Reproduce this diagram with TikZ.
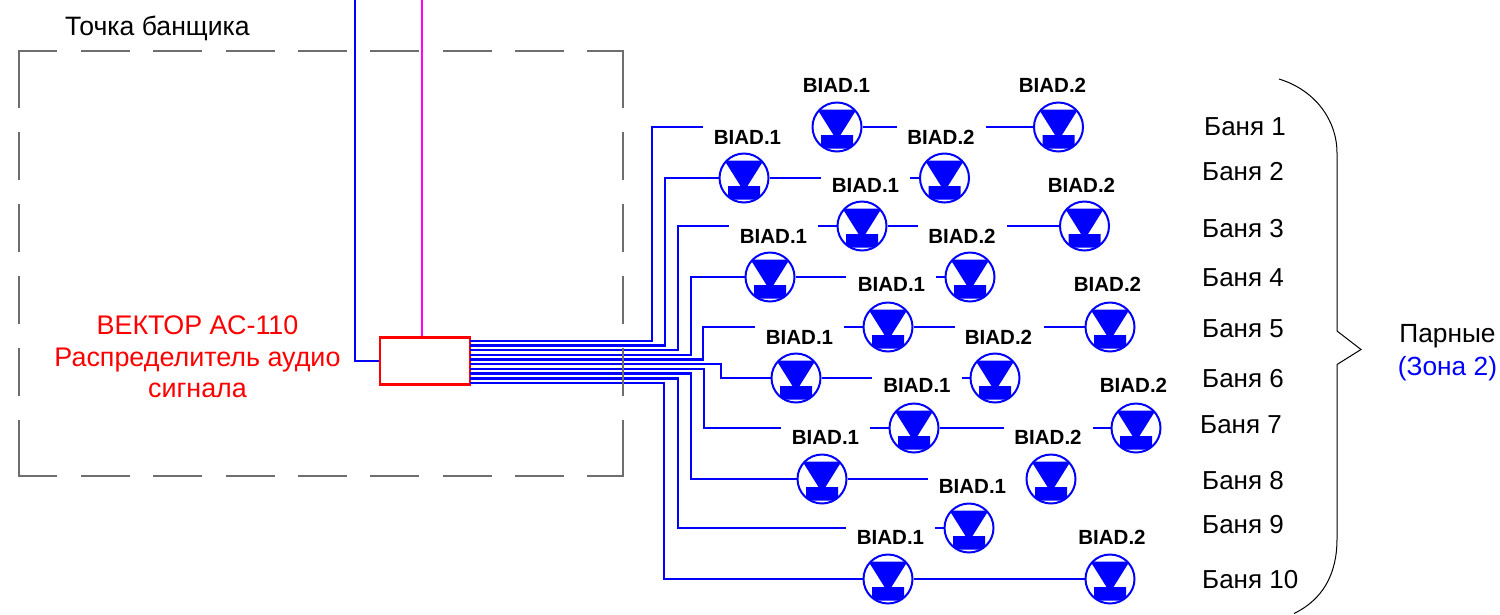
\documentclass[tikz,border=0pt]{standalone}
\usepackage{fontspec}
\setmainfont{Liberation Sans}
\definecolor{dashgray}{RGB}{110,110,110}
\definecolor{pureblue}{RGB}{0,0,255}
\definecolor{purered}{RGB}{255,0,0}
\definecolor{puremag}{RGB}{255,0,255}
\tikzset{
  x=1pt,y=-1pt,
  spk/.style={circle,draw=pureblue,line width=2pt,minimum size=49pt,inner sep=0pt,
    path picture={
      \fill[pureblue,shift={(path picture bounding box.center)}]
        (-19.5,-17.5)--(19.5,-17.5)--(3.5,8)--(-3.5,8)--cycle
        (-16,8) rectangle (16,21.7);
    }},
  wire/.style={draw=pureblue,line width=2.2pt,line join=miter},
  lab/.style={font=\fontsize{20.5pt}{24pt}\bfseries\selectfont,anchor=base,inner sep=0pt},
  bath/.style={font=\fontsize{26pt}{28pt}\selectfont,anchor=base west,inner sep=0pt},
  txt/.style={font=\fontsize{26.3pt}{28pt}\selectfont,anchor=base,inner sep=0pt},
  redtxt/.style={font=\fontsize{26.9pt}{28pt}\selectfont,anchor=base,inner sep=0pt,text=purered},
  zone/.style={draw=dashgray,line width=1.1pt},
  brace/.style={draw=black,line width=1pt},
}
\begin{document}
\begin{tikzpicture}
\useasboundingbox (0,0) rectangle (1500,614);
% box
\node[draw=purered,line width=2.2pt,minimum width=90pt,minimum height=47pt,inner sep=0pt] (box) at (425,361) {};
% speakers
\foreach \n/\x/\y in {
 s1a/837/127,s1b/1058.5/127,s2a/744/178,s2b/944.5/178,s3a/862/226,s3b/1084.5/226,
 s4a/770/277,s4b/970/277,s5a/888/327,s5b/1110/327,s6a/796/378,s6b/995/378,
 s7a/914/428,s7b/1136/428,s8a/822/479,s8b/1051/479,s9a/969/528,s10a/888/579,s10b/1110/579}
 {\node[spk] (\n) at (\x,\y) {};}
% labels
\foreach \n/\x/\y/\t in {
 l1/836.5/92/BIAD.1,l2/1052.5/92/BIAD.2,l3/747.5/144/BIAD.1,l4/941/144/BIAD.2,
 l5/865.5/192/BIAD.1,l6/1081.5/192/BIAD.2,l7/773.5/243/BIAD.1,l8/962/243/BIAD.2,
 l9/891.5/291/BIAD.1,l10/1107.5/291/BIAD.2,l11/799.5/344/BIAD.1,l12/998.5/344/BIAD.2,
 l13/917/392/BIAD.1,l14/1133.5/392/BIAD.2,l15/825.5/444/BIAD.1,l16/1048/444/BIAD.2,
 l17/972.5/493/BIAD.1,l18/890.5/544/BIAD.1,l19/1112/544/BIAD.2}
 {\node[lab] (\n) at (\x,\y) {\t};}
% outlets of the box
\foreach \i/\y in {1/341,2/345.5,3/350,4/355,5/359.5,6/364,7/369,8/373.5,9/378.5,10/383}
 {\coordinate (o\i) at (470,\y);}
% bends and free ends
\coordinate (b1) at (652,127); \coordinate (b2) at (665,178); \coordinate (b3) at (678,226);
\coordinate (b4) at (691,277); \coordinate (b5) at (703,327); \coordinate (b7) at (704,428);
\coordinate (b8) at (691,479); \coordinate (b9) at (678,528); \coordinate (b10) at (664,579);
\coordinate (b6) at (721,378);
\coordinate (e1a) at (703,127); \coordinate (e1b) at (897,127); \coordinate (e1c) at (986,127);
\coordinate (e2a) at (821,178); \coordinate (e2b) at (910,178);
\coordinate (e3a) at (729,226); \coordinate (e3b) at (818,226); \coordinate (e3c) at (918,226); \coordinate (e3d) at (1007,226);
\coordinate (e4a) at (846,277); \coordinate (e4b) at (936,277);
\coordinate (e5a) at (755,327); \coordinate (e5b) at (844,327); \coordinate (e5c) at (955,327); \coordinate (e5d) at (1044,327);
\coordinate (e6a) at (872,378); \coordinate (e6b) at (962,378);
\coordinate (e7a) at (781,428); \coordinate (e7b) at (870,428); \coordinate (e7c) at (1004,428); \coordinate (e7d) at (1093,428);
\coordinate (e8a) at (928,479);
\coordinate (e9a) at (846,528); \coordinate (e9b) at (935,528);
% wires
\draw[wire] (o1) -| (b1) -- (e1a);
\draw[wire] (s1a.east) -- (e1b); \draw[wire] (e1c) -- (s1b.west);
\draw[wire] (o2) -| (b2) -- (s2a.west); \draw[wire] (s2a.east) -- (e2a); \draw[wire] (e2b) -- (s2b.west);
\draw[wire] (o3) -| (b3) -- (e3a);
\draw[wire] (e3b) -- (s3a.west); \draw[wire] (s3a.east) -- (e3c); \draw[wire] (e3d) -- (s3b.west);
\draw[wire] (o4) -| (b4) -- (s4a.west); \draw[wire] (s4a.east) -- (e4a); \draw[wire] (e4b) -- (s4b.west);
\draw[wire] (o5) -| (b5) -- (e5a);
\draw[wire] (e5b) -- (s5a.west); \draw[wire] (s5a.east) -- (e5c); \draw[wire] (e5d) -- (s5b.west);
\draw[wire] (o6) -| (b6) -- (s6a.west); \draw[wire] (s6a.east) -- (e6a); \draw[wire] (e6b) -- (s6b.west);
\draw[wire] (o7) -| (b7) -- (e7a);
\draw[wire] (e7b) -- (s7a.west); \draw[wire] (s7a.east) -- (e7c); \draw[wire] (e7d) -- (s7b.west);
\draw[wire] (o8) -| (b8) -- (s8a.west); \draw[wire] (s8a.east) -- (e8a);
\draw[wire] (o9) -| (b9) -- (e9a); \draw[wire] (e9b) -- (s9a.west);
\draw[wire] (o10) -| (b10) -- (s10a.west); \draw[wire] (s10a.east) -- (s10b.west);
% dashed zone
\draw[zone] (19,108) -- (19,51) -- (57,51);
\foreach \k in {0,...,6} {\draw[zone] ({81+72.3*\k},51) -- ({130+72.3*\k},51);}
\draw[zone] (587,51) -- (623,51) -- (623,108);
\draw[zone] (19,420) -- (19,476) -- (57,476);
\foreach \k in {0,...,6} {\draw[zone] ({81+72.3*\k},476) -- ({130+72.3*\k},476);}
\draw[zone] (587,476) -- (623,476) -- (623,420);
\foreach \k in {0,...,3} {
 \draw[zone] (19,{132+72*\k}) -- (19,{180+72*\k});
 \draw[zone] (623,{132+72*\k}) -- (623,{180+72*\k});}
% incoming lines
\coordinate (t1) at (355,0); \coordinate (t2) at (422,0);
\draw[wire] (t1) |- (box.west);
\draw[draw=puremag,line width=2.2pt] (t2) -- (t2 |- box.north);
% texts
\node[txt,anchor=base west,font=\fontsize{26.6pt}{28pt}\selectfont] (title) at (65,35) {Точка банщика};
\node[redtxt] (r1) at (197.5,334) {ВЕКТОР АС-110};
\node[redtxt] (r2) at (197.5,366) {Распределитель аудио};
\node[redtxt] (r3) at (197.5,397) {сигнала};
\foreach \n/\x/\y/\t in {
 b1t/1204/135/Баня 1,b2t/1202/180/Баня 2,b3t/1202/237/Баня 3,b4t/1202/286/Баня 4,
 b5t/1202/337/Баня 5,b6t/1202/387/Баня 6,b7t/1200/433/Баня 7,b8t/1202/489/Баня 8,
 b9t/1202/533/Баня 9,b10t/1202/588/Баня 10}
 {\node[bath] (\n) at (\x,\y) {\t};}
\node[txt] (z1) at (1447.5,342) {Парные};
\node[txt,text=pureblue] (z2) at (1447.5,375) {(Зона 2)};
% brace
\draw[brace] (1279,79) .. controls (1315,90) and (1337,120) .. (1337,153)
  -- (1337,331) -- (1361,349.5) -- (1337,364.5) -- (1337,539)
  .. controls (1337,575) and (1322,600) .. (1294,613.5);
\end{tikzpicture}
\end{document}
